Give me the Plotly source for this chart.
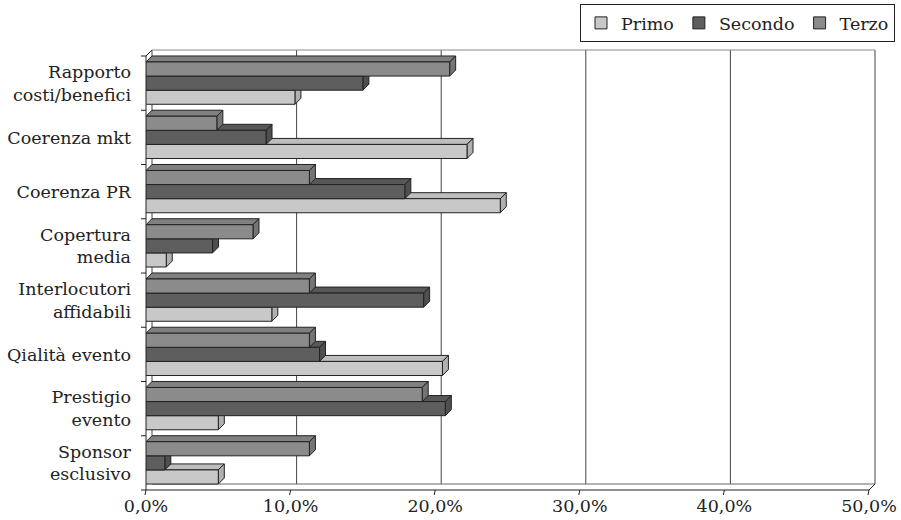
import plotly.graph_objects as go

# ---------------- data ----------------
categories = ["Rapporto<br>costi/benefici", "Coerenza mkt", "Coerenza PR",
              "Copertura<br>media", "Interlocutori<br>affidabili", "Qialità evento",
              "Prestigio<br>evento", "Sponsor<br>esclusivo"]
primo = [10.3, 22.2, 24.5, 1.4, 8.7, 20.5, 5.0, 5.0]
secondo = [15.0, 8.3, 17.9, 4.6, 19.2, 12.0, 20.7, 1.3]
terzo = [21.0, 4.9, 11.3, 7.4, 11.3, 11.3, 19.1, 11.3]
series_names = ["Primo", "Secondo", "Terzo"]
x_tick_values = [0, 10, 20, 30, 40, 50]
x_tick_labels = ["0,0%", "10,0%", "20,0%", "30,0%", "40,0%", "50,0%"]

# ---------------- styling / geometry ----------------
colors = ["#c8c8c8", "#5e5e5e", "#8b8b8b"]
top_colors = ["#bdbdbd", "#575757", "#808080"]
side_colors = ["#b0b0b0", "#4f4f4f", "#757575"]
edge = "#222222"
FONT = "DejaVu Serif"
FS = 17.5
W, H = 901, 520
PL, PR_FRONT, PT_BACK, PB_FRONT = 146, 869, 50, 490
DEPTH_PX = 6
XMAX = 50
n = len(categories)
px_per_x = (PR_FRONT - PL) / XMAX
px_per_y = (PB_FRONT - (PT_BACK + DEPTH_PX)) / n
DX = DEPTH_PX / px_per_x
DY = DEPTH_PX / px_per_y
x_range = [0, XMAX + DX]
y_range = [-0.5, n - 0.5 + DY]
bargap = 0.22
bw = (1 - bargap) / 3
plot_w = PR_FRONT + DEPTH_PX - PL
plot_h = PB_FRONT - PT_BACK

ypos = [n - 1 - i for i in range(n)]
series = [primo, secondo, terzo]

fig = go.Figure()
for name, vals, col in zip(series_names, series, colors):
    fig.add_trace(go.Bar(
        y=ypos, x=vals, name=name, orientation="h",
        marker=dict(color=col, line=dict(color=edge, width=1)),
        hoverinfo="x+name",
    ))

shapes = []

def px_paper(x, y):
    return x / x_range[1], (y - y_range[0]) / (y_range[1] - y_range[0])

def line_paper(x0, y0, x1, y1, color=edge, width=1):
    a0, b0 = px_paper(x0, y0)
    a1, b1 = px_paper(x1, y1)
    shapes.append(dict(type="line", xref="paper", yref="paper", x0=a0, y0=b0,
                       x1=a1, y1=b1, line=dict(color=color, width=width), layer="below"))

# back wall: gridlines and frame
ytop_back = n - 0.5 + DY
ybot_back = -0.5 + DY
for t in x_tick_values:
    line_paper(t + DX, ybot_back, t + DX, ytop_back, color="#444444")
line_paper(DX, ytop_back, XMAX + DX, ytop_back, color="#888888")
line_paper(DX, ybot_back, XMAX + DX, ybot_back, color="#666666")
# left wall / floor edges
line_paper(0, -0.5, 0, n - 0.5)
line_paper(0, n - 0.5, DX, ytop_back)
line_paper(0, -0.5, XMAX, -0.5)
line_paper(XMAX, -0.5, XMAX + DX, ybot_back)
# category ticks on the left
for k in range(n + 1):
    a, b = px_paper(0, k - 0.5)
    shapes.append(dict(type="line", xref="paper", yref="paper", x0=a - 5 / plot_w,
                       x1=a, y0=b, y1=b, line=dict(color=edge, width=1)))
# value ticks below the front axis
for t in x_tick_values:
    a, b = px_paper(t, -0.5)
    shapes.append(dict(type="line", xref="paper", yref="paper", x0=a, x1=a - 1 / plot_w,
                       y0=b, y1=b - 5 / plot_h, line=dict(color=edge, width=1)))

# 3D faces (top + side) of each bar, drawn behind the front faces
for j in range(n):
    for k in range(3):
        v = series[k][j]
        yc = ypos[j] + (-bw + bw * k)
        yb, yt = yc - bw / 2, yc + bw / 2
        top = f"M 0 {yt} L {DX} {yt + DY} L {v + DX} {yt + DY} L {v} {yt} Z"
        side = f"M {v} {yb} L {v} {yt} L {v + DX} {yt + DY} L {v + DX} {yb + DY} Z"
        for p, fc in ((top, top_colors[k]), (side, side_colors[k])):
            shapes.append(dict(type="path", xref="x", yref="y", path=p,
                               fillcolor=fc, line=dict(color=edge, width=1),
                               layer="below"))

fig.update_layout(
    width=W, height=H,
    margin=dict(l=PL, r=W - PR_FRONT - DEPTH_PX, t=PT_BACK, b=H - PB_FRONT,
                autoexpand=False),
    paper_bgcolor="white", plot_bgcolor="rgba(0,0,0,0)",
    barmode="group", bargap=bargap, bargroupgap=0,
    font=dict(family=FONT, size=FS, color="#222222"),
    shapes=shapes,
    showlegend=True,
    legend=dict(orientation="h", x=(895 - PL) / plot_w, xanchor="right",
                y=(PB_FRONT - 4) / plot_h, yanchor="top",
                bordercolor=edge, borderwidth=1, font=dict(size=FS, family=FONT),
                itemwidth=30, tracegroupgap=0),
    xaxis=dict(range=x_range, tickvals=x_tick_values, ticktext=x_tick_labels,
               showgrid=False, zeroline=False, showline=False, automargin=False,
               ticks="", ticklabelstandoff=3, tickfont=dict(size=FS, family=FONT)),
    yaxis=dict(range=y_range, tickvals=ypos, ticktext=categories,
               showgrid=False, zeroline=False, showline=False, ticks="", automargin=False,
               ticklabelstandoff=14, tickfont=dict(size=FS, family=FONT)),
)

fig.write_html("out.html")
